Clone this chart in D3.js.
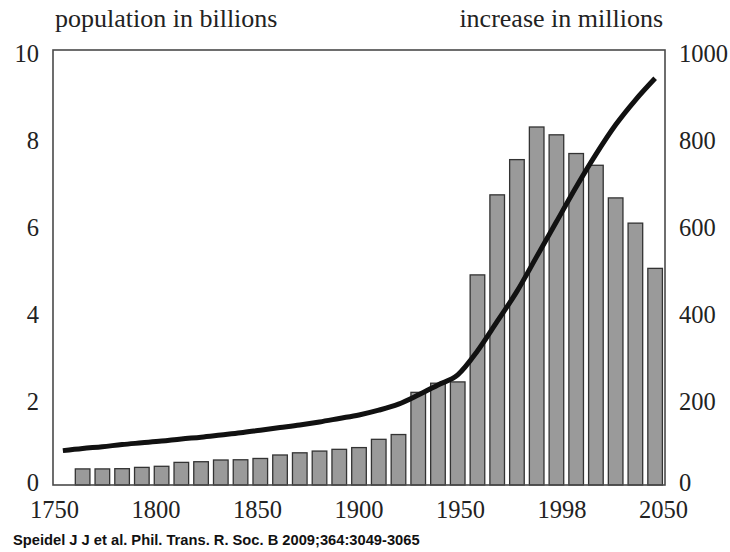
<!DOCTYPE html>
<html>
<head>
<meta charset="utf-8">
<script src="https://cdn.jsdelivr.net/npm/d3@7"></script>
<style>
  body { margin: 0; background: #fff; }
  svg { display: block; }
</style>
</head>
<body>
<svg id="chart" width="730" height="552"></svg>
<script>
// Decades shown on the category axis
const years = [1750, 1760, 1770, 1780, 1790, 1800, 1810, 1820, 1830, 1840,
               1850, 1860, 1870, 1880, 1890, 1900, 1910, 1920, 1930, 1940,
               1950, 1960, 1970, 1980, 1990, 2000, 2010, 2020, 2030, 2040, 2050];

// World population, billions (line, left axis)
const population = [0.79, 0.84, 0.88, 0.93, 0.97, 1.01, 1.06, 1.10, 1.15, 1.20,
                    1.26, 1.32, 1.38, 1.45, 1.53, 1.61, 1.72, 1.86, 2.07, 2.30,
                    2.53, 3.08, 3.76, 4.45, 5.25, 6.05, 6.85, 7.60, 8.28, 8.85, 9.35];

// Decadal increase, millions (bars, right axis), 1760 onwards
const increaseYears = [1760, 1770, 1780, 1790, 1800, 1810, 1820, 1830, 1840, 1850,
                       1860, 1870, 1880, 1890, 1900, 1910, 1920, 1930, 1940, 1950,
                       1960, 1970, 1980, 1990, 2000, 2010, 2020, 2030, 2040, 2050];
const increase = [37, 37, 37.5, 40.5, 43, 52, 53.5, 57.5, 58, 61,
                  69, 74, 78, 82, 86, 105, 116, 213, 234, 237,
                  483, 667, 748, 823, 805, 762, 735, 660, 602, 498];

// Axis labels
const xTickLabels = ["1750", "1800", "1850", "1900", "1950", "1998", "2050"];
const popTicks = [0, 2, 4, 6, 8, 10];
const incTicks = [0, 200, 400, 600, 800, 1000];

const plotLeft = 53, plotRight = 665, plotTop = 50, plotBottom = 485;
const serif = "'Liberation Serif', 'Times New Roman', serif";

const svg = d3.select("#chart");

const x = d3.scaleBand()
  .domain(years)
  .range([plotLeft, plotRight])
  .paddingInner(0.26)
  .paddingOuter(0.13);

const xLabels = d3.scalePoint()
  .domain(xTickLabels)
  .range([plotLeft + 1, plotRight - 2]);

const yPop = d3.scaleLinear().domain([0, 10]).range([plotBottom, plotTop]);
const yInc = d3.scaleLinear().domain([0, 1000]).range([plotBottom, plotTop]);

// Bars: decadal increase
svg.append("g")
  .selectAll("rect")
  .data(increaseYears.map((yr, i) => ({ yr, v: increase[i] })))
  .join("rect")
  .attr("x", d => x(d.yr))
  .attr("width", x.bandwidth())
  .attr("y", d => yInc(d.v))
  .attr("height", d => plotBottom - yInc(d.v))
  .attr("fill", "#9a9a9a")
  .attr("stroke", "#333")
  .attr("stroke-width", 1.3);

// Plot frame
svg.append("rect")
  .attr("x", plotLeft).attr("y", plotTop)
  .attr("width", plotRight - plotLeft).attr("height", plotBottom - plotTop)
  .attr("fill", "none")
  .attr("stroke", "#4a4a4a")
  .attr("stroke-width", 1.6);

// Population line
const line = d3.line()
  .x((d, i) => x(years[i]) + x.bandwidth() / 2)
  .y(d => yPop(d))
  .curve(d3.curveMonotoneX);

svg.append("path")
  .datum(population)
  .attr("d", line)
  .attr("fill", "none")
  .attr("stroke", "#111")
  .attr("stroke-width", 5)
  .attr("stroke-linejoin", "round");

// Axes (labels only, frame drawn above)
function styleAxis(g) {
  g.select(".domain").remove();
  g.selectAll("text")
    .attr("font-family", serif)
    .attr("font-size", 24.5)
    .attr("fill", "#222");
}

// Zero labels sit a little higher so they clear the year labels
function liftZero(g) {
  g.selectAll(".tick text").filter(d => d === 0).attr("dy", "0.08em");
}

svg.append("g")
  .attr("transform", `translate(${plotLeft},4)`)
  .call(d3.axisLeft(yPop).tickValues(popTicks).tickSize(0).tickPadding(14).tickFormat(d3.format("d")))
  .call(styleAxis)
  .call(liftZero);

svg.append("g")
  .attr("transform", `translate(${plotRight},4)`)
  .call(d3.axisRight(yInc).tickValues(incTicks).tickSize(0).tickPadding(14).tickFormat(d3.format("d")))
  .call(styleAxis)
  .call(liftZero);

svg.append("g")
  .attr("transform", `translate(0,${plotBottom})`)
  .call(d3.axisBottom(xLabels).tickSize(0).tickPadding(16))
  .call(styleAxis);

// Axis titles
svg.append("text")
  .attr("x", 55).attr("y", 27)
  .attr("font-family", serif).attr("font-size", 26).attr("fill", "#222")
  .text("population in billions");

svg.append("text")
  .attr("x", 663).attr("y", 27)
  .attr("text-anchor", "end")
  .attr("font-family", serif).attr("font-size", 26).attr("fill", "#222")
  .text("increase in millions");

// Source note
svg.append("text")
  .attr("x", 13).attr("y", 545)
  .attr("font-family", "'Liberation Sans', Arial, sans-serif")
  .attr("font-weight", "bold")
  .attr("font-size", 14.7)
  .attr("fill", "#111")
  .text("Speidel J J et al. Phil. Trans. R. Soc. B 2009;364:3049-3065");
</script>
</body>
</html>
